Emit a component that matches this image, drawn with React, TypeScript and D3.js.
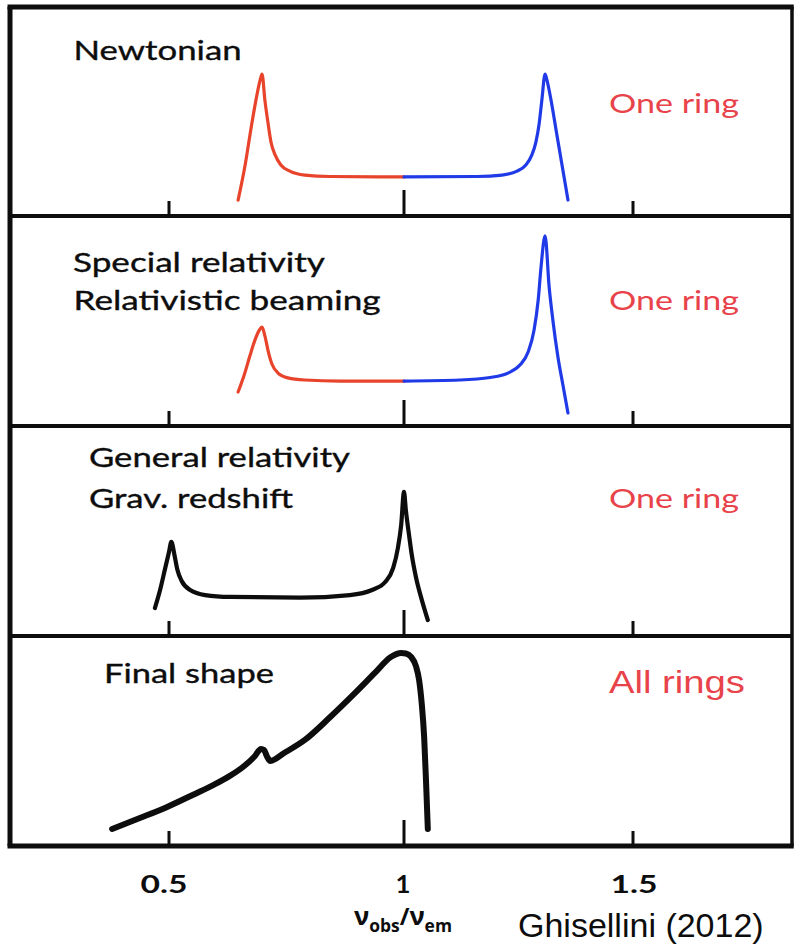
import React from "react";
import * as d3 from "d3";

// Frequency axis ticks (nu_obs / nu_em)
const xTicks = [0.5, 1, 1.5];
const xTickLabels = ["0.5", "1", "1.5"];

// Panel titles and ring labels, top to bottom
const panelTitles = [
  ["Newtonian"],
  ["Special relativity", "Relativistic beaming"],
  ["General relativity", "Grav. redshift"],
  ["Final shape"],
];
const ringLabels = ["One ring", "One ring", "One ring", "All rings"];

// Line profiles: [nu_obs/nu_em, relative flux]
const newtonianRed: [number, number][] = [
  [0.647, 0.76], [0.662, 2.43], [0.674, 4.1], [0.685, 5.52], [0.694, 6.48], [0.698, 6.76],
  [0.704, 5.52], [0.711, 4.38], [0.717, 3.52], [0.726, 2.9], [0.738, 2.43], [0.757, 2.14],
  [0.789, 1.95], [0.843, 1.88], [1.0, 1.86],
];
const newtonianBlue: [number, number][] = [
  [1.0, 1.86], [1.159, 1.88], [1.214, 1.95], [1.247, 2.14], [1.266, 2.43], [1.279, 2.9],
  [1.288, 3.52], [1.295, 4.38], [1.301, 5.52], [1.308, 6.76], [1.312, 6.48], [1.321, 5.52],
  [1.332, 4.1], [1.345, 2.43], [1.358, 0.76],
];
const beamingRed: [number, number][] = [
  [0.647, 1.62], [0.66, 2.43], [0.672, 3.33], [0.683, 4.1], [0.691, 4.52], [0.698, 4.71],
  [0.704, 4.29], [0.711, 3.57], [0.719, 2.95], [0.732, 2.52], [0.753, 2.29], [0.789, 2.19],
  [0.864, 2.14], [1.0, 2.14],
];
const beamingBlue: [number, number][] = [
  [1.0, 2.14], [1.122, 2.19], [1.188, 2.31], [1.227, 2.52], [1.253, 2.9], [1.271, 3.52],
  [1.284, 4.57], [1.293, 6.0], [1.299, 7.52], [1.308, 9.05], [1.317, 6.6], [1.325, 5.05],
  [1.336, 3.3], [1.347, 1.95], [1.358, 0.62],
];
const gravRedshift: [number, number][] = [
  [0.47, 1.33], [0.481, 2.19], [0.491, 3.14], [0.5, 4.0], [0.505, 4.48], [0.512, 3.81],
  [0.518, 3.14], [0.527, 2.62], [0.545, 2.19], [0.577, 1.95], [0.63, 1.86], [0.779, 1.83],
  [0.885, 1.95], [0.932, 2.19], [0.96, 2.57], [0.977, 3.24], [0.987, 4.19], [0.994, 5.29],
  [1.0, 6.86], [1.004, 6.0], [1.011, 4.81], [1.017, 3.86], [1.026, 2.81], [1.039, 1.71],
  [1.052, 0.76],
];
const finalShape: [number, number][] = [
  [0.379, 0.81], [0.438, 1.33], [0.496, 1.86], [0.555, 2.48], [0.594, 2.9], [0.626, 3.29],
  [0.66, 3.81], [0.681, 4.24], [0.696, 4.62], [0.702, 4.57], [0.709, 4.24], [0.715, 4.05],
  [0.745, 4.43], [0.789, 5.05], [0.843, 6.14], [0.896, 7.29], [0.938, 8.24], [0.972, 9.0],
  [0.994, 9.19], [1.004, 9.17], [1.015, 9.02], [1.026, 8.57], [1.033, 7.9], [1.039, 6.71],
  [1.044, 5.19], [1.048, 3.14], [1.052, 0.81],
];

const RED = "#e8432b";
const BLUE = "#1f3ae6";
const INK = "#0d0d0d";
const LABEL_RED = "#e8434a";

const panelSeries = [
  [
    { pts: newtonianRed, color: RED, width: 3.2 },
    { pts: newtonianBlue, color: BLUE, width: 3.2 },
  ],
  [
    { pts: beamingRed, color: RED, width: 3.2 },
    { pts: beamingBlue, color: BLUE, width: 3.2 },
  ],
  [{ pts: gravRedshift, color: INK, width: 4.2 }],
  [{ pts: finalShape, color: INK, width: 6 }],
];

// Layout of the text in each panel
const titleLayout = [
  [{ x: 73.6, y: 60, len: 168 }],
  [{ x: 73, y: 272, len: 252 }, { x: 73.6, y: 310, len: 307 }],
  [{ x: 89, y: 467, len: 261 }, { x: 89, y: 508, len: 204 }],
  [{ x: 104, y: 683, len: 170 }],
];
const ringLayout = [
  { x: 609, y: 113, len: 130 },
  { x: 609, y: 310, len: 130 },
  { x: 609, y: 508, len: 130 },
  { x: 609, y: 693, len: 136 },
];

export default function App() {
  const W = 796;
  const H = 944;
  const edges = [7, 216, 426, 636, 846];
  const left = 10;
  const right = 792;

  const x = d3.scaleLinear().domain([0.5, 1, 1.5]).range([169, 404, 633]);
  const tickLabelX = [164, 403, 634];
  const tickLabelLen = [47, 15, 47];

  return (
    <svg
      width={W}
      height={H}
      viewBox={`0 0 ${W} ${H}`}
      style={{ position: "absolute", left: 0, top: 0, background: "#fff" }}
    >
      <rect x={0} y={0} width={W} height={H} fill="#fff" />
      {panelSeries.map((series, i) => {
        const bottom = edges[i + 1];
        const y = d3.scaleLinear().domain([0, 10]).range([bottom, bottom - 210]);
        const line = d3
          .line<[number, number]>()
          .x((d) => x(d[0]))
          .y((d) => y(d[1]))
          .curve(d3.curveMonotoneX);
        return (
          <g key={i}>
            {series.map((s, j) => (
              <path
                key={j}
                d={line(s.pts) || ""}
                fill="none"
                stroke={s.color}
                strokeWidth={s.width}
                strokeLinecap="round"
                strokeLinejoin="round"
              />
            ))}
            {xTicks.map((t, k) => (
              <line
                key={k}
                x1={x(t)}
                x2={x(t)}
                y1={bottom}
                y2={bottom - (t === 1 ? 26 : 15)}
                stroke={INK}
                strokeWidth={3}
              />
            ))}
            {panelTitles[i].map((txt, k) => (
              <text
                key={k}
                x={titleLayout[i][k].x}
                y={titleLayout[i][k].y}
                textLength={titleLayout[i][k].len}
                lengthAdjust="spacingAndGlyphs"
                fontFamily="Lato, 'Open Sans', sans-serif"
                fontSize={26.5}
                fill={INK}
                stroke={INK}
                strokeWidth={0.35}
              >
                {txt}
              </text>
            ))}
            <text
              x={ringLayout[i].x}
              y={ringLayout[i].y}
              textLength={ringLayout[i].len}
              lengthAdjust="spacingAndGlyphs"
              fontFamily={i === 3 ? "'Liberation Sans', Arial, sans-serif" : "Lato, 'Open Sans', sans-serif"}
              fontSize={i === 3 ? 31 : 26.5}
              fill={LABEL_RED}
            >
              {ringLabels[i]}
            </text>
          </g>
        );
      })}

      {/* panel dividers */}
      {edges.slice(1, 4).map((e, i) => (
        <line key={i} x1={left} x2={right} y1={e} y2={e} stroke={INK} strokeWidth={4} />
      ))}
      {/* outer frame */}
      <line x1={left - 2.5} x2={right + 1.75} y1={edges[0]} y2={edges[0]} stroke={INK} strokeWidth={5} />
      <line x1={left - 2.5} x2={right + 1.75} y1={edges[4]} y2={edges[4]} stroke={INK} strokeWidth={5} />
      <line x1={left} x2={left} y1={edges[0]} y2={edges[4]} stroke={INK} strokeWidth={5} />
      <line x1={right} x2={right} y1={edges[0]} y2={edges[4]} stroke={INK} strokeWidth={3.5} />

      {/* tick labels */}
      {xTickLabels.map((lbl, k) => (
        <text
          key={k}
          x={tickLabelX[k]}
          y={893}
          textAnchor="middle"
          textLength={tickLabelLen[k]}
          lengthAdjust="spacingAndGlyphs"
          fontFamily="Lato, 'Open Sans', sans-serif"
          fontWeight="bold"
          fontSize={25}
          fill={INK}
        >
          {lbl}
        </text>
      ))}

      {/* axis title */}
      <text
        x={354}
        y={925}
        textLength={98}
        lengthAdjust="spacingAndGlyphs"
        fontFamily="'Open Sans', 'DejaVu Sans', sans-serif"
        fontWeight="bold"
        fontSize={25}
        fill={INK}
      >
        <tspan>ν</tspan>
        <tspan fontSize={17} dy={7}>obs</tspan>
        <tspan dy={-7} fontSize={23}>/</tspan>
        <tspan>ν</tspan>
        <tspan fontSize={17} dy={7}>em</tspan>
      </text>

      <text
        x={518}
        y={937}
        fontFamily="'Liberation Sans', Arial, sans-serif"
        fontSize={34}
        fill={INK}
      >
        Ghisellini (2012)
      </text>
    </svg>
  );
}
